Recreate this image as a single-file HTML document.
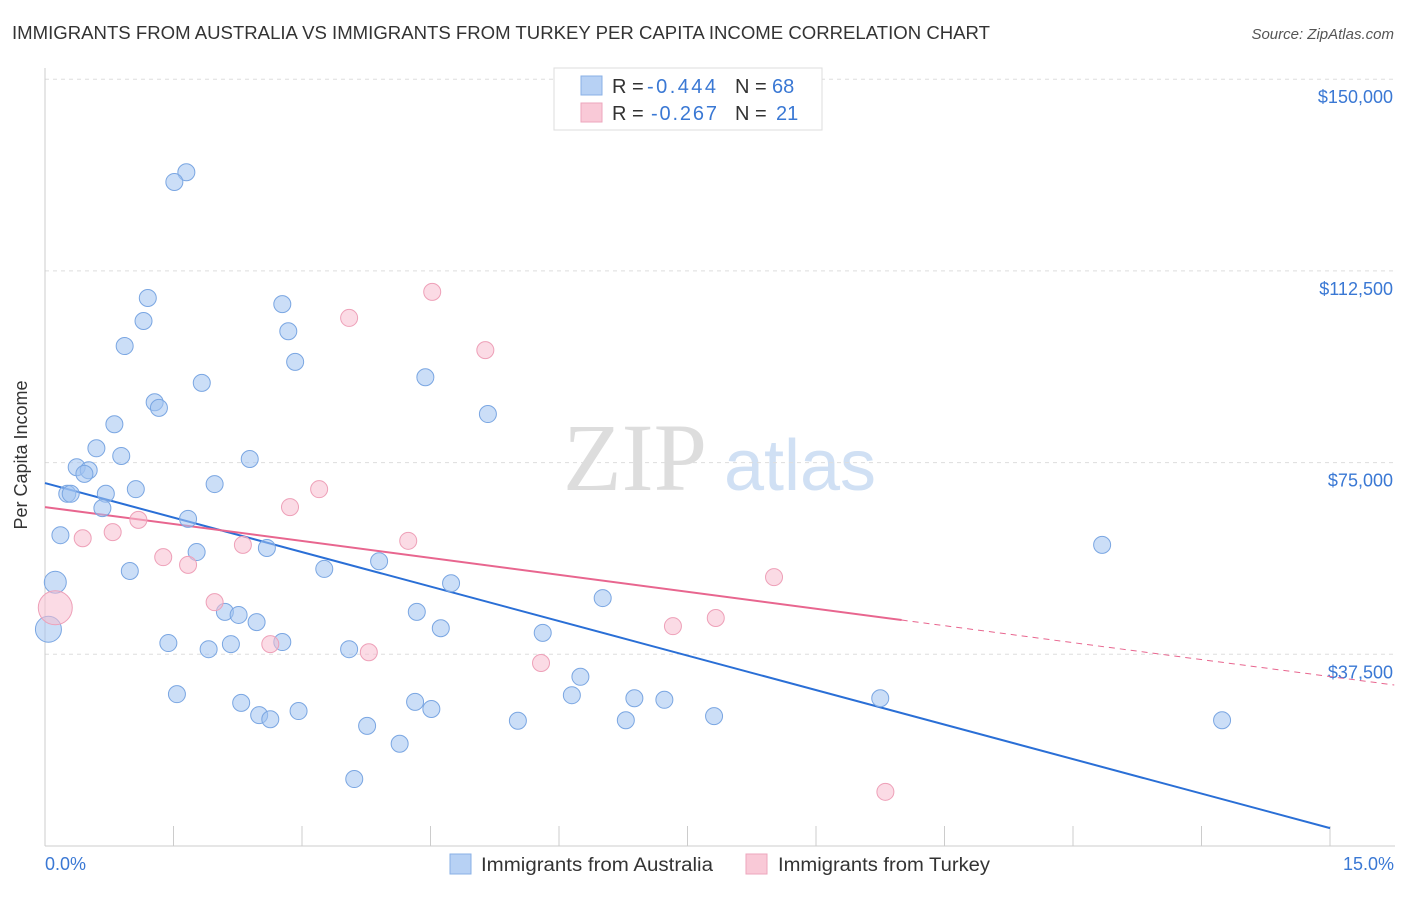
<!DOCTYPE html>
<html><head><meta charset="utf-8">
<style>
body{margin:0;background:#fff;font-family:"Liberation Sans",sans-serif;}
svg text{font-family:"Liberation Sans",sans-serif;}
</style></head>
<body>
<svg id="chart" width="1406" height="892" xmlns="http://www.w3.org/2000/svg">
<text x="12" y="39" font-size="18" fill="#333" textLength="978" lengthAdjust="spacingAndGlyphs">IMMIGRANTS FROM AUSTRALIA VS IMMIGRANTS FROM TURKEY PER CAPITA INCOME CORRELATION CHART</text>
<text x="1394" y="39" font-size="15" fill="#555" text-anchor="end" font-style="italic">Source: ZipAtlas.com</text>
<g>
<text x="635" y="490" font-size="96" fill="#ddd" text-anchor="middle" font-family="Liberation Serif" style="font-family:'Liberation Serif',serif">ZIP</text>
<text x="800" y="490" font-size="72" fill="#d0e0f4" text-anchor="middle">atlas</text>
</g>
<g id="grid"></g>
<g id="axes"></g>
<g id="lines"></g>
<g id="points"></g>
<text x="27" y="455" font-size="18" fill="#333" text-anchor="middle" transform="rotate(-90 27 455)">Per Capita Income</text>
<text x="45" y="870" font-size="18" fill="#3a78d4">0.0%</text>
<text x="1394" y="870" font-size="18" fill="#3a78d4" text-anchor="end">15.0%</text>
<g>
<rect x="554" y="68" width="268" height="62" fill="#fff" stroke="#ddd"/>
<g>
<rect x="581" y="76" width="21" height="19" fill="#b7d1f4" stroke="#8ab0e6"/>
<text x="612" y="93" font-size="20" fill="#333">R = </text><text x="647" y="93" font-size="20" fill="#3a78d4" textLength="69">-0.444</text>
<text x="735" y="93" font-size="20" fill="#333">N = </text><text x="772" y="93" font-size="20" fill="#3a78d4">68</text>
</g>
<g>
<rect x="581" y="103" width="21" height="19" fill="#f9c9d7" stroke="#eda6bc"/>
<text x="612" y="120" font-size="20" fill="#333">R = </text><text x="651" y="120" font-size="20" fill="#3a78d4" textLength="66">-0.267</text>
<text x="735" y="120" font-size="20" fill="#333">N = </text><text x="776" y="120" font-size="20" fill="#3a78d4">21</text>
</g>
</g>
<g>
<g>
<rect x="450" y="854" width="21" height="20" fill="#b7d1f4" stroke="#8ab0e6"/>
<text x="481" y="871" font-size="19" fill="#333" textLength="232" lengthAdjust="spacingAndGlyphs">Immigrants from Australia</text>
</g>
<g>
<rect x="746" y="854" width="21" height="20" fill="#f9c9d7" stroke="#eda6bc"/>
<text x="778" y="871" font-size="19" fill="#333" textLength="212" lengthAdjust="spacingAndGlyphs">Immigrants from Turkey</text>
</g>
</g>
</svg>
<script>
const yTicks=[37500,75000,112500,150000];
const yTickLabels=["$37,500","$75,000","$112,500","$150,000"];
const ausX=[1.65,1.51,1.20,1.15,0.93,2.77,2.84,2.92,1.83,4.44,1.28,1.33,5.17,0.81,0.60,0.89,2.39,0.37,0.51,0.46,1.98,1.06,0.26,0.30,0.71,0.67,1.67,0.18,1.77,2.59,12.34,3.90,0.99,3.26,0.12,4.74,6.51,2.10,2.26,4.34,2.47,0.04,4.62,5.81,1.44,2.17,2.77,1.91,3.55,6.25,1.54,6.15,6.88,7.23,9.75,2.29,4.32,4.51,2.96,2.50,2.63,7.81,5.52,6.78,13.74,3.76,4.14,3.61];
const ausY=[131.8,129.9,107.2,102.7,97.8,106.0,100.7,94.7,90.6,91.7,86.8,85.7,84.5,82.5,77.8,76.3,75.7,74.1,73.5,72.8,70.8,69.8,68.9,68.9,68.9,66.1,64.0,60.8,57.5,58.3,58.9,55.7,53.8,54.2,51.6,51.4,48.5,45.8,45.2,45.8,43.8,42.4,42.6,41.7,39.7,39.5,39.9,38.5,38.5,33.1,29.7,29.5,28.9,28.6,28.9,28.0,28.2,26.8,26.4,25.6,24.8,25.4,24.5,24.6,24.6,23.5,20.0,13.1];
const turX=[4.52,3.55,5.14,3.20,2.86,1.09,0.79,0.44,4.24,2.31,1.38,1.67,8.51,1.98,0.12,7.83,7.33,2.63,3.78,5.79,9.81];
const turY=[108.4,103.3,97.0,69.8,66.3,63.8,61.4,60.2,59.7,58.9,56.5,55.0,52.6,47.7,46.6,44.6,43.0,39.5,37.9,35.8,10.6];
const ausTrend=[71.0,3.5];
const turTrend=[66.3,44.2];
const turTrendEndX=10.0;
const NS="http://www.w3.org/2000/svg";
const X=v=>45+v*1285/15;
const Y=v=>846-v*191.7/37.5;
function mk(t,a,p){const e=document.createElementNS(NS,t);for(const k in a)e.setAttribute(k,a[k]);p.appendChild(e);return e;}
const grid=document.getElementById('grid'),axes=document.getElementById('axes'),lines=document.getElementById('lines'),pts=document.getElementById('points');
yTicks.forEach((t,i)=>{
 const g=mk('line',{x1:45,x2:1395,y1:Y(t/1000),y2:Y(t/1000),stroke:'#ddd','stroke-dasharray':'4,4'},grid);
 
 
 const l=mk('text',{x:1393,y:Y(t/1000)+24,'font-size':18,fill:'#3a78d4','text-anchor':'end'},axes);
 l.textContent=yTickLabels[i];
 
 
});
const ya=mk('line',{x1:45,x2:45,y1:68,y2:846,stroke:'#ccc'},axes);


const xa=mk('line',{x1:45,x2:1395,y1:846,y2:846,stroke:'#ccc'},axes);


for(let i=0;i<=10;i++){const tk=mk('line',{x1:X(i*1.5),x2:X(i*1.5),y1:826,y2:846,stroke:'#ccc'},axes);
 
 }
const bl=mk('line',{x1:X(0),y1:Y(ausTrend[0]),x2:X(15),y2:Y(ausTrend[1]),stroke:'#2a6fd6','stroke-width':2},lines);


const pl=mk('line',{x1:X(0),y1:Y(turTrend[0]),x2:X(turTrendEndX),y2:Y(turTrend[1]),stroke:'#e8668f','stroke-width':2},lines);


const slope=(turTrend[1]-turTrend[0])/turTrendEndX;
const pd=mk('line',{x1:X(turTrendEndX),y1:Y(turTrend[1]),x2:X(15.75),y2:Y(turTrend[0]+slope*15.75),stroke:'#e8668f','stroke-width':1,'stroke-dasharray':'6,5'},lines);


ausX.forEach((x,i)=>{const r=(i==41)?13:(i==34?11:8.5);
 const c=mk('circle',{cx:X(x),cy:Y(ausY[i]),r:r,fill:'rgba(160,195,240,0.55)',stroke:'#7aa6e2','stroke-width':1},pts);
 
 });
turX.forEach((x,i)=>{const r=(i==14)?17:8.5;
 const c=mk('circle',{cx:X(x),cy:Y(turY[i]),r:r,fill:'rgba(248,190,208,0.55)',stroke:'#eea0b8','stroke-width':1},pts);
 
 });
</script>
</body></html>
